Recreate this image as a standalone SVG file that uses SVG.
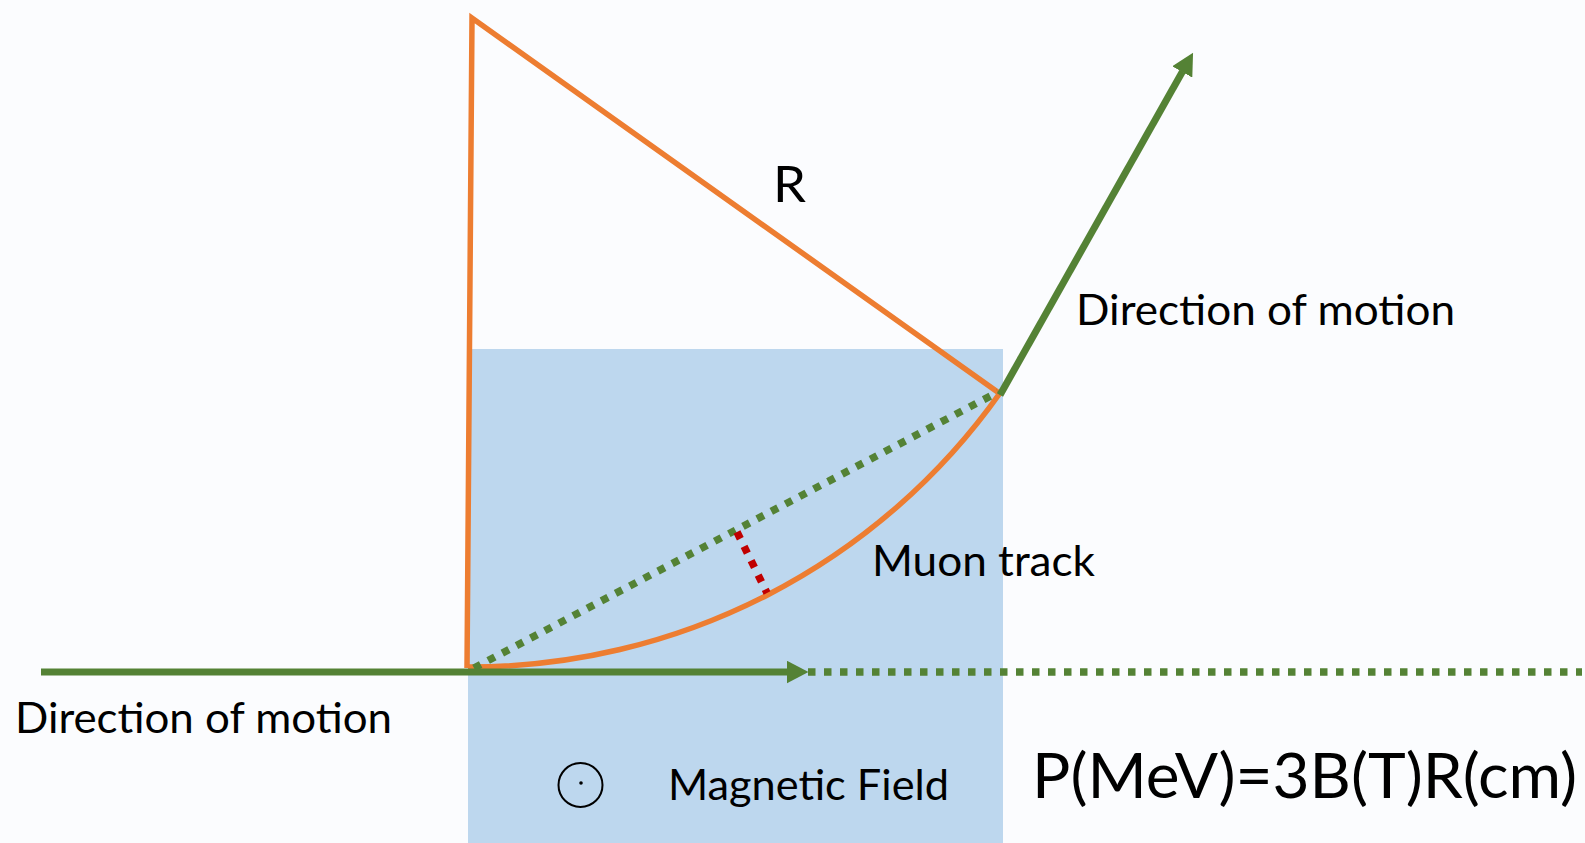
<svg xmlns="http://www.w3.org/2000/svg" width="1585" height="843" viewBox="0 0 1585 843">
  <defs>
    <style>
      .lbl { font-family: Lato, "Open Sans", "Liberation Sans", sans-serif; fill: #000; }
      .orange { fill: none; stroke: #ED7D31; stroke-width: 5.5; stroke-linejoin: miter; }
      .green { fill: none; stroke: #548235; stroke-width: 7; }
      .gdots { fill: none; stroke: #548235; stroke-width: 7.5; stroke-dasharray: 7.5 8.5; }
      .rdots { fill: none; stroke: #C00000; stroke-width: 7.5; stroke-dasharray: 7.5 8.5; }
    </style>
    <marker id="arrow" markerUnits="userSpaceOnUse" markerWidth="22" markerHeight="23" viewBox="0 0 22 23" refX="0.5" refY="11.5" orient="auto">
      <path d="M0,0 L22,11.5 L0,23 z" fill="#548235"/>
    </marker>
  </defs>
  <rect width="1585" height="843" fill="#FBFCFE"/>

  <g id="field-region">
    <rect x="468" y="349" width="535" height="494" fill="#BDD7EE"/>
  </g>

  <g id="radius-triangle">
    <polyline class="orange" points="999,393 472,18 467,668"/>
  </g>

  <g id="muon-track">
    <path class="orange" d="M468,667 A649,649 0 0 0 1000,393"/>
  </g>

  <g id="connectors">
    <line class="gdots" x1="474" y1="668" x2="998" y2="392"/>
    <line class="rdots" x1="737" y1="532" x2="767" y2="593"/>
    <line class="green" x1="41" y1="672" x2="787" y2="672" marker-end="url(#arrow)"/>
    <line class="gdots" x1="808" y1="672" x2="1582" y2="672"/>
    <line class="green" x1="1000" y1="395" x2="1182.5" y2="71.5" marker-end="url(#arrow)"/>
  </g>

  <g id="field-symbol">
    <circle cx="580.5" cy="785" r="22" fill="none" stroke="#000" stroke-width="2"/>
    <circle cx="581" cy="783" r="1.8" fill="#000"/>
  </g>

  <g id="labels">
    <text class="lbl" x="773" y="202" font-size="50" textLength="33" lengthAdjust="spacingAndGlyphs">R</text>
    <text class="lbl" x="1076" y="325" font-size="42" textLength="379" lengthAdjust="spacingAndGlyphs">Direction of motion</text>
    <text class="lbl" x="15" y="733" font-size="42" textLength="377" lengthAdjust="spacingAndGlyphs">Direction of motion</text>
    <text class="lbl" x="872" y="576" font-size="42" textLength="223" lengthAdjust="spacingAndGlyphs">Muon track</text>
    <text class="lbl" x="668" y="800" font-size="42" textLength="281" lengthAdjust="spacingAndGlyphs">Magnetic Field</text>
    <text class="lbl" x="1032" y="798" font-size="62" textLength="545" lengthAdjust="spacingAndGlyphs">P(MeV)=3B(T)R(cm)</text>
  </g>
</svg>
